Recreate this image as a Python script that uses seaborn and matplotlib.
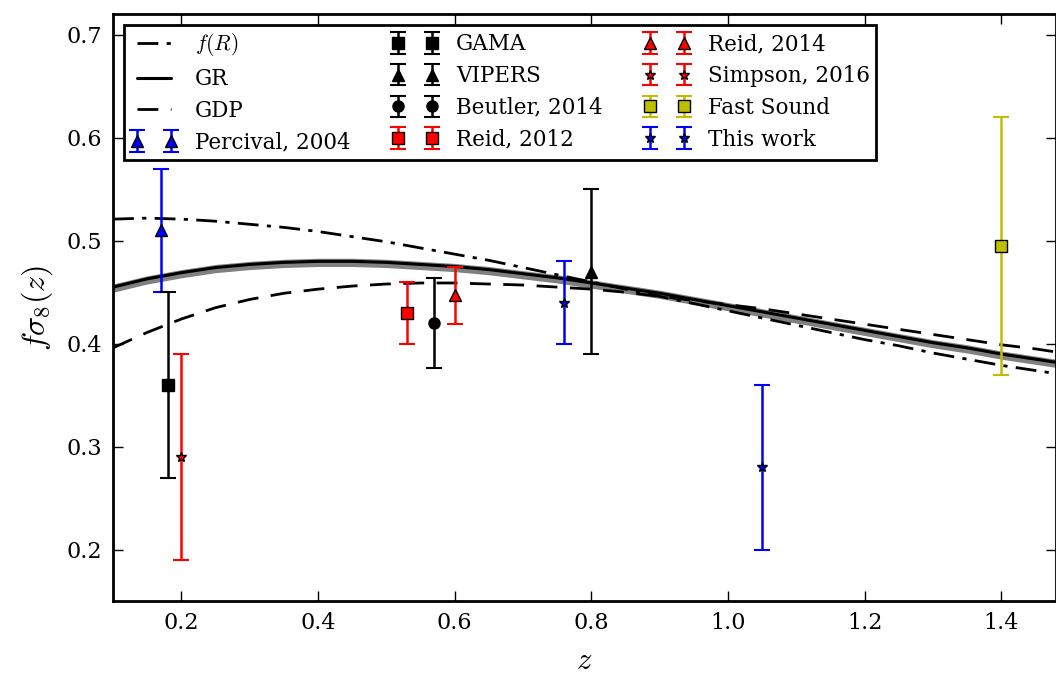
import numpy as np
import pandas as pd
import seaborn as sns
import matplotlib.pyplot as plt

# %% data
z_curve = [0.10, 0.15, 0.20, 0.25, 0.30, 0.35, 0.40, 0.45, 0.50, 0.55, 0.60, 0.65, 0.70, 0.75,
           0.80, 0.85, 0.90, 0.95, 1.00, 1.05, 1.10, 1.15, 1.20, 1.25, 1.30, 1.35, 1.40, 1.45, 1.48]
fR_curve = [0.521, 0.522, 0.521, 0.519, 0.516, 0.513, 0.509, 0.504, 0.499, 0.493, 0.487, 0.481, 0.474, 0.467,
            0.460, 0.453, 0.446, 0.439, 0.432, 0.425, 0.418, 0.411, 0.404, 0.398, 0.391, 0.385, 0.379, 0.374, 0.371]
gr_curve = [0.455, 0.463, 0.469, 0.474, 0.477, 0.479, 0.480, 0.480, 0.479, 0.477, 0.475, 0.472, 0.468, 0.464,
            0.459, 0.454, 0.449, 0.443, 0.437, 0.431, 0.425, 0.419, 0.413, 0.407, 0.401, 0.396, 0.390, 0.385, 0.382]
gr_lo = [0.450, 0.458, 0.464, 0.469, 0.472, 0.474, 0.475, 0.475, 0.474, 0.472, 0.470, 0.467, 0.463, 0.459,
         0.454, 0.449, 0.444, 0.438, 0.432, 0.426, 0.420, 0.414, 0.408, 0.402, 0.396, 0.391, 0.385, 0.380, 0.377]
gr_hi = [0.458, 0.466, 0.472, 0.477, 0.480, 0.482, 0.483, 0.483, 0.482, 0.480, 0.478, 0.475, 0.471, 0.467,
         0.462, 0.457, 0.452, 0.446, 0.440, 0.434, 0.428, 0.422, 0.416, 0.410, 0.404, 0.399, 0.393, 0.388, 0.385]
gdp_curve = [0.396, 0.411, 0.424, 0.435, 0.443, 0.449, 0.453, 0.456, 0.458, 0.459, 0.459, 0.458, 0.457, 0.455,
             0.453, 0.450, 0.446, 0.442, 0.438, 0.434, 0.429, 0.424, 0.419, 0.414, 0.409, 0.404, 0.399, 0.395, 0.392]

# survey measurements: label, z, f sigma8, error
surveys = ['Percival, 2004', 'GAMA', 'VIPERS', 'Beutler, 2014', 'Reid, 2012',
           'Reid, 2014', 'Simpson, 2016', 'Fast Sound', 'This work']
survey_z = [[0.17], [0.18], [0.80], [0.57], [0.53], [0.60], [0.20], [1.40], [0.76, 1.05]]
survey_fs8 = [[0.51], [0.36], [0.47], [0.42], [0.43], [0.447], [0.29], [0.495], [0.44, 0.28]]
survey_err = [[0.06], [0.09], [0.08], [0.044], [0.03], [0.028], [0.10], [0.125], [0.04, 0.08]]

# style per survey (colour, marker, marker size)
survey_style = [('b', '^', 8), ('k', 's', 8), ('k', '^', 8), ('k', 'o', 8), ('r', 's', 8),
                ('r', '^', 8), ('r', '*', 7), ('y', 's', 8), ('b', '*', 7)]

# %% plotting
sns.set_style('ticks')
plt.rcParams['font.family'] = ['DejaVu Serif']
plt.rcParams['mathtext.fontset'] = 'cm'
plt.rcParams['lines.scale_dashes'] = False
plt.rcParams['xtick.direction'] = 'in'
plt.rcParams['ytick.direction'] = 'in'
plt.rcParams['xtick.top'] = True
plt.rcParams['ytick.right'] = True
for key in ['text.color', 'axes.labelcolor', 'xtick.color', 'ytick.color', 'axes.edgecolor']:
    plt.rcParams[key] = 'k'

fig = plt.figure(figsize=(10.56, 6.77), dpi=100)
ax = fig.add_axes([0.107, 0.112, 0.893, 0.867])

curves = pd.DataFrame({'z': z_curve, 'fR': fR_curve, 'GR': gr_curve, 'GDP': gdp_curve})

ax.fill_between(z_curve, gr_lo, gr_hi, color='grey', lw=0)
sns.lineplot(data=curves, x='z', y='fR', ax=ax, color='k', lw=2,
             label='$f(R)$', linestyle=(0, (15, 6, 3, 6)))
sns.lineplot(data=curves, x='z', y='GR', ax=ax, color='k', lw=2.2, label='GR')
sns.lineplot(data=curves, x='z', y='GDP', ax=ax, color='k', lw=2,
             label='GDP', linestyle=(0, (15, 9)))

for name, zs, vals, errs, (c, m, ms) in zip(surveys, survey_z, survey_fs8, survey_err, survey_style):
    ax.errorbar(zs, vals, yerr=errs, fmt=m, color=c, ecolor=c, mfc=c, mec='k',
                ms=ms, elinewidth=1.8, capsize=6, capthick=1.5, label=name)

ax.set_xlim(0.1, 1.48)
ax.set_ylim(0.15, 0.72)
ax.set_xticks([0.2, 0.4, 0.6, 0.8, 1.0, 1.2, 1.4])
ax.set_yticks([0.2, 0.3, 0.4, 0.5, 0.6, 0.7])
ax.tick_params(which='major', length=7, width=1, labelsize=16, pad=8)
for s in ax.spines.values():
    s.set_linewidth(2)
ax.set_xlabel('$z$', fontsize=22, labelpad=8)
ax.set_ylabel(r'$f\sigma_8(z)$', fontsize=23, labelpad=8)

leg = ax.legend(ncol=3, loc='upper left', numpoints=2, fontsize=15.5, fancybox=False,
                framealpha=1, edgecolor='k', handlelength=2.2, handletextpad=0.8,
                columnspacing=1.9, labelspacing=0.45, borderaxespad=0.5, borderpad=0.3)
leg.get_frame().set_linewidth(2)

plt.savefig('out.png', dpi=100)
